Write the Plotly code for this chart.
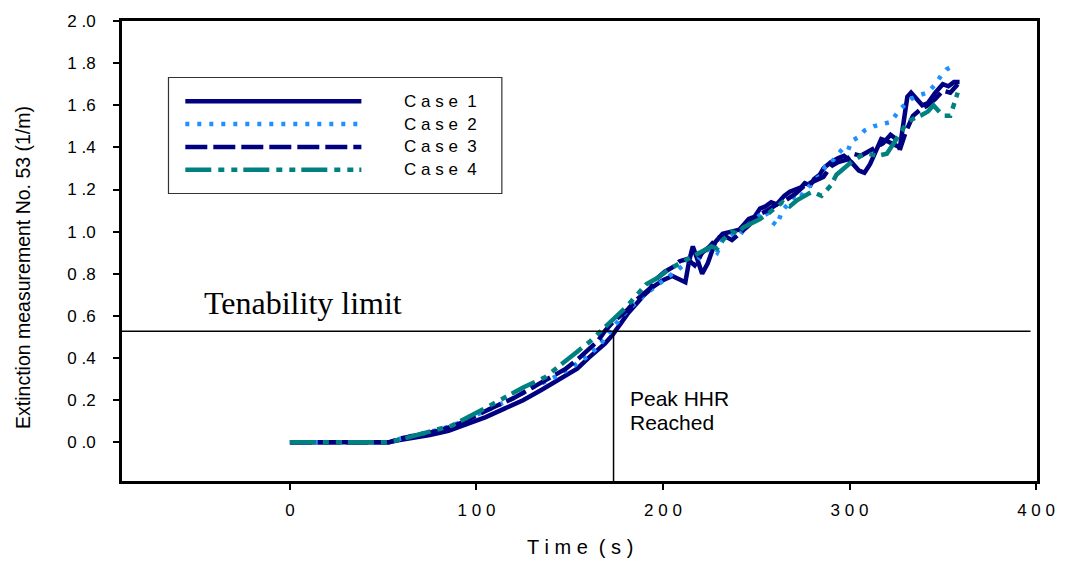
import plotly.graph_objects as go

# ---------------- data ----------------
t_case1 = [0, 53, 58, 65, 75, 85, 95, 105, 115, 125, 135, 145, 154, 160, 165, 169, 173, 177, 181, 186,
           190, 195, 200, 205, 209, 212, 214, 216, 218, 221, 224, 228, 232, 237, 241, 244, 246, 249, 252,
           255, 258, 261, 265, 268, 271, 274, 276, 279, 281, 284, 286, 290, 294, 297, 301, 305, 308, 311,
           314, 317, 320, 324, 327, 329, 331, 333, 336, 339, 342, 346, 350, 353, 356, 359]
v_case1 = [0, 0, 0.01, 0.02, 0.035, 0.055, 0.085, 0.12, 0.16, 0.20, 0.25, 0.30, 0.35, 0.40, 0.44, 0.47,
           0.51, 0.56, 0.61, 0.66, 0.70, 0.74, 0.77, 0.79, 0.77, 0.76, 0.86, 0.93, 0.88, 0.80, 0.85, 0.95,
           0.99, 1.00, 1.01, 1.04, 1.06, 1.07, 1.11, 1.12, 1.14, 1.13, 1.17, 1.19, 1.20, 1.21, 1.23, 1.22,
           1.25, 1.27, 1.30, 1.33, 1.35, 1.36, 1.33, 1.29, 1.28, 1.32, 1.38, 1.44, 1.43, 1.41, 1.40, 1.52,
           1.64, 1.66, 1.63, 1.60, 1.61, 1.66, 1.70, 1.69, 1.71, 1.71]

t_case2 = [0, 53, 60, 70, 80, 90, 100, 110, 120, 130, 140, 150, 160, 166, 172, 178, 184, 190, 196, 202,
           208, 211, 214, 217, 220, 223, 226, 229, 232, 235, 238, 241, 244, 247, 250, 255, 258, 261, 264,
           267, 270, 273, 276, 279, 282, 285, 287, 290, 292, 296, 299, 301, 305, 308, 313, 317, 322, 327,
           333, 338, 342, 346, 349, 352, 356]
v_case2 = [0, 0, 0.02, 0.04, 0.06, 0.09, 0.13, 0.17, 0.21, 0.26, 0.30, 0.35, 0.41, 0.46, 0.53, 0.60, 0.65,
           0.70, 0.74, 0.78, 0.82, 0.84, 0.86, 0.85, 0.88, 0.91, 0.92, 0.90, 0.96, 0.97, 0.99, 0.98, 1.02,
           1.04, 1.06, 1.10, 1.05, 1.03, 1.10, 1.13, 1.16, 1.15, 1.20, 1.22, 1.25, 1.27, 1.31, 1.32, 1.35,
           1.39, 1.38, 1.43, 1.45, 1.48, 1.50, 1.51, 1.52, 1.58, 1.63, 1.65, 1.66, 1.70, 1.74, 1.77, 1.79]

t_case3 = [0, 53, 60, 70, 80, 90, 100, 110, 120, 130, 140, 148, 155, 160, 165, 169, 173, 177, 181, 185,
           189, 193, 197, 201, 205, 209, 213, 217, 221, 225, 229, 233, 237, 241, 246, 251, 256, 261, 266,
           271, 276, 281, 286, 290, 294, 298, 302, 306, 310, 314, 318, 322, 325, 327, 330, 334, 338, 342,
           346, 350, 354, 358]
v_case3 = [0, 0, 0.02, 0.035, 0.055, 0.085, 0.13, 0.17, 0.21, 0.26, 0.31, 0.35, 0.40, 0.44, 0.48, 0.53,
           0.57, 0.60, 0.63, 0.67, 0.70, 0.73, 0.78, 0.81, 0.83, 0.86, 0.87, 0.84, 0.90, 0.93, 0.97, 0.98,
           0.96, 0.99, 1.03, 1.08, 1.10, 1.13, 1.15, 1.18, 1.22, 1.24, 1.26, 1.31, 1.33, 1.34, 1.37, 1.36,
           1.38, 1.40, 1.42, 1.46, 1.44, 1.39, 1.47, 1.55, 1.58, 1.60, 1.63, 1.67, 1.66, 1.70]

t_case4 = [0, 53, 62, 75, 87, 100, 112, 125, 137, 146, 154, 161, 168, 174, 180, 186, 191, 197, 203, 209,
           215, 220, 226, 229, 232, 237, 240, 243, 248, 252, 257, 261, 264, 268, 272, 276, 280, 285, 290,
           293, 297, 301, 306, 310, 315, 320, 323, 326, 331, 335, 338, 342, 345, 348, 350, 354, 356, 358]
v_case4 = [0, 0, 0.02, 0.05, 0.08, 0.14, 0.20, 0.26, 0.31, 0.37, 0.43, 0.48, 0.54, 0.59, 0.64, 0.70, 0.75,
           0.78, 0.82, 0.85, 0.88, 0.90, 0.93, 0.92, 0.96, 1.00, 0.99, 1.02, 1.04, 1.06, 1.09, 1.12, 1.14,
           1.12, 1.15, 1.17, 1.19, 1.17, 1.22, 1.27, 1.30, 1.33, 1.36, 1.37, 1.36, 1.37, 1.41, 1.45, 1.52,
           1.54, 1.55, 1.57, 1.60, 1.57, 1.55, 1.55, 1.61, 1.66]

case_names = ["C a s e  1", "C a s e  2", "C a s e  3", "C a s e  4"]
tenability_limit = 0.527
peak_hhr_time = 173.5

x_ticks = [0, 100, 200, 300, 400]
x_ticktext = ["0", "1 0 0", "2 0 0", "3 0 0", "4 0 0"]
y_ticks = [0.0, 0.2, 0.4, 0.6, 0.8, 1.0, 1.2, 1.4, 1.6, 1.8, 2.0]
y_ticktext = ["0 .0", "0 .2", "0 .4", "0 .6", "0 .8", "1 .0", "1 .2", "1 .4", "1 .6", "1 .8", "2 .0"]

# ---------------- styles ----------------
NAVY = "#000080"
BLUE = "#1E90FF"
TEAL = "#008080"
styles = [
    dict(color=NAVY, width=4.5, dash="solid"),
    dict(color=BLUE, width=4.5, dash="4px,8px"),
    dict(color=NAVY, width=4.5, dash="22px,6px"),
    dict(color=TEAL, width=4.5, dash="26px,7px,6px,7px,6px,6px"),
]
series = [(t_case1, v_case1), (t_case2, v_case2), (t_case3, v_case3), (t_case4, v_case4)]

W, H = 1067, 561
L, R, T, B = 122, 20, 17, 80
PW, PH = W - L - R, H - T - B

def px(xp):
    return (xp - L) / PW

def py(yp):
    return (H - B - yp) / PH

fig = go.Figure()
for (tt, vv), st, nm in zip(series, styles, case_names):
    fig.add_trace(go.Scatter(x=tt, y=vv, mode="lines", name=nm, line=st, showlegend=False))

shapes = []
shapes.append(dict(type="line", xref="x", yref="y", x0=-90, x1=397, y0=tenability_limit, y1=tenability_limit,
                   line=dict(color="black", width=1.5)))
shapes.append(dict(type="line", xref="x", yref="y", x0=peak_hhr_time, x1=peak_hhr_time, y0=-0.215,
                   y1=tenability_limit, line=dict(color="black", width=1.5)))
# custom legend box
shapes.append(dict(type="rect", xref="paper", yref="paper", x0=px(169), x1=px(506), y0=py(191), y1=py(74),
                   line=dict(color="#333333", width=1.2), fillcolor="white", layer="above"))
row_y = [98, 121, 144, 167]
annotations = []
for ry, st, nm in zip(row_y, styles, case_names):
    shapes.append(dict(type="line", xref="paper", yref="paper", x0=px(186), x1=px(364), y0=py(ry), y1=py(ry),
                       line=st, layer="above"))
    annotations.append(dict(xref="paper", yref="paper", x=px(405), y=py(ry), text=nm, showarrow=False,
                            xanchor="left", yanchor="middle",
                            font=dict(family="Liberation Sans, Arial", size=17, color="black")))

annotations.append(dict(xref="x", yref="y", x=-47, y=0.66, text="Tenability limit", showarrow=False,
                        xanchor="left", yanchor="middle",
                        font=dict(family="Liberation Serif, Times New Roman", size=32, color="black")))
annotations.append(dict(xref="x", yref="y", x=181, y=0.207, text="Peak HHR", showarrow=False,
                        xanchor="left", yanchor="middle",
                        font=dict(family="Liberation Sans, Arial", size=21, color="black")))
annotations.append(dict(xref="x", yref="y", x=181, y=0.094, text="Reached", showarrow=False,
                        xanchor="left", yanchor="middle",
                        font=dict(family="Liberation Sans, Arial", size=21, color="black")))
annotations.append(dict(xref="paper", yref="paper", x=px(22), y=py(266),
                        text="Extinction measurement No. 53 (1/m)", showarrow=False, textangle=-90,
                        xanchor="center", yanchor="middle",
                        font=dict(family="Liberation Sans, Arial", size=19.5, color="black")))
annotations.append(dict(xref="paper", yref="paper", x=px(585), y=py(548), text="T i m e  ( s )",
                        showarrow=False, xanchor="center", yanchor="middle",
                        font=dict(family="Liberation Sans, Arial", size=20, color="black")))

fig.update_layout(
    width=W, height=H,
    margin=dict(l=L, r=R, t=T, b=B, pad=0),
    paper_bgcolor="white", plot_bgcolor="white",
    shapes=shapes, annotations=annotations,
    showlegend=False,
    font=dict(family="Liberation Sans, Arial", color="black"),
)
fig.update_xaxes(range=[-90, 400.5], tickvals=x_ticks, ticktext=x_ticktext, ticks="outside", ticklen=6,
                 tickwidth=1.5, tickcolor="black", showgrid=False, zeroline=False, showline=True,
                 linecolor="black", linewidth=3, mirror=True, ticklabelstandoff=6,
                 tickfont=dict(family="Liberation Sans, Arial", size=17, color="black"))
fig.update_yaxes(range=[-0.1835, 2.0], tickvals=y_ticks, ticktext=y_ticktext, ticks="outside", ticklen=6,
                 tickwidth=1.5, tickcolor="black", showgrid=False, zeroline=False, showline=True,
                 linecolor="black", linewidth=3, mirror=True, ticklabelstandoff=14,
                 tickfont=dict(family="Liberation Sans, Arial", size=17, color="black"))

fig.write_html("out.html")
